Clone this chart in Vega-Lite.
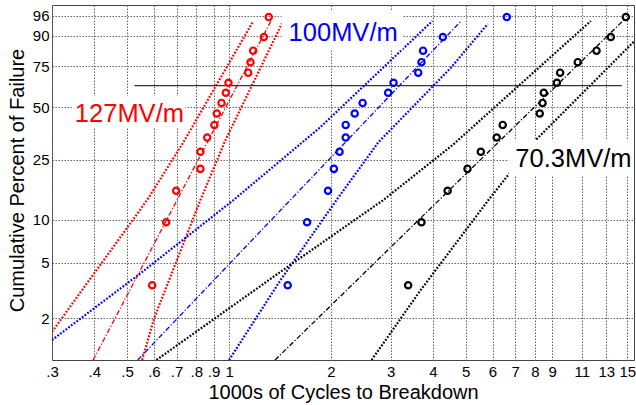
{
  "$schema": "https://vega.github.io/schema/vega-lite/v6.json",
  "width": 582,
  "height": 355,
  "autosize": {"type": "none"},
  "padding": {"left": 52, "top": 5, "right": 2, "bottom": 45},
  "background": "white",
  "config": {
    "font": "Liberation Sans",
    "view": {"stroke": "#444", "strokeWidth": 1},
    "axis": {
      "labelFont": "Liberation Sans",
      "titleFont": "Liberation Sans",
      "labelFontSize": 15,
      "titleFontSize": 20,
      "titleFontWeight": "normal",
      "labelColor": "#000",
      "titleColor": "#000",
      "domain": false,
      "ticks": false,
      "grid": true,
      "gridColor": "#666",
      "gridDash": [1.5, 1.5],
      "gridWidth": 1,
      "gridOpacity": 1,
      "labelOverlap": false,
      "labelFlush": false
    }
  },
  "datasets": {
    "points": [
      {"group": "127MV/m", "rank": 1, "x": 0.593, "h": 0.03507},
      {"group": "127MV/m", "rank": 2, "x": 0.652, "h": 0.10093},
      {"group": "127MV/m", "rank": 3, "x": 0.698, "h": 0.17143},
      {"group": "127MV/m", "rank": 4, "x": 0.823, "h": 0.24728},
      {"group": "127MV/m", "rank": 5, "x": 0.823, "h": 0.32936},
      {"group": "127MV/m", "rank": 6, "x": 0.862, "h": 0.41878},
      {"group": "127MV/m", "rank": 7, "x": 0.905, "h": 0.517},
      {"group": "127MV/m", "rank": 8, "x": 0.92, "h": 0.62592},
      {"group": "127MV/m", "rank": 9, "x": 0.95, "h": 0.74817},
      {"group": "127MV/m", "rank": 10, "x": 0.978, "h": 0.88748},
      {"group": "127MV/m", "rank": 11, "x": 0.996, "h": 1.04938},
      {"group": "127MV/m", "rank": 12, "x": 1.139, "h": 1.24266},
      {"group": "127MV/m", "rank": 13, "x": 1.157, "h": 1.48247},
      {"group": "127MV/m", "rank": 14, "x": 1.178, "h": 1.79855},
      {"group": "127MV/m", "rank": 15, "x": 1.267, "h": 2.26336},
      {"group": "127MV/m", "rank": 16, "x": 1.31, "h": 3.15916},
      {"group": "100MV/m", "rank": 1, "x": 1.49, "h": 0.03507},
      {"group": "100MV/m", "rank": 2, "x": 1.7, "h": 0.10093},
      {"group": "100MV/m", "rank": 3, "x": 1.96, "h": 0.17143},
      {"group": "100MV/m", "rank": 4, "x": 2.04, "h": 0.24728},
      {"group": "100MV/m", "rank": 5, "x": 2.12, "h": 0.32936},
      {"group": "100MV/m", "rank": 6, "x": 2.21, "h": 0.41878},
      {"group": "100MV/m", "rank": 7, "x": 2.21, "h": 0.517},
      {"group": "100MV/m", "rank": 8, "x": 2.35, "h": 0.62592},
      {"group": "100MV/m", "rank": 9, "x": 2.48, "h": 0.74817},
      {"group": "100MV/m", "rank": 10, "x": 2.95, "h": 0.88748},
      {"group": "100MV/m", "rank": 11, "x": 3.06, "h": 1.04938},
      {"group": "100MV/m", "rank": 12, "x": 3.62, "h": 1.24266},
      {"group": "100MV/m", "rank": 13, "x": 3.7, "h": 1.48247},
      {"group": "100MV/m", "rank": 14, "x": 3.74, "h": 1.79855},
      {"group": "100MV/m", "rank": 15, "x": 4.28, "h": 2.26336},
      {"group": "100MV/m", "rank": 16, "x": 6.61, "h": 3.15916},
      {"group": "70.3MV/m", "rank": 1, "x": 3.38, "h": 0.03507},
      {"group": "70.3MV/m", "rank": 2, "x": 3.7, "h": 0.10093},
      {"group": "70.3MV/m", "rank": 3, "x": 4.42, "h": 0.17143},
      {"group": "70.3MV/m", "rank": 4, "x": 5.06, "h": 0.24728},
      {"group": "70.3MV/m", "rank": 5, "x": 5.54, "h": 0.32936},
      {"group": "70.3MV/m", "rank": 6, "x": 6.17, "h": 0.41878},
      {"group": "70.3MV/m", "rank": 7, "x": 6.43, "h": 0.517},
      {"group": "70.3MV/m", "rank": 8, "x": 8.27, "h": 0.62592},
      {"group": "70.3MV/m", "rank": 9, "x": 8.43, "h": 0.74817},
      {"group": "70.3MV/m", "rank": 10, "x": 8.5, "h": 0.88748},
      {"group": "70.3MV/m", "rank": 11, "x": 9.29, "h": 1.04938},
      {"group": "70.3MV/m", "rank": 12, "x": 9.5, "h": 1.24266},
      {"group": "70.3MV/m", "rank": 13, "x": 10.71, "h": 1.48247},
      {"group": "70.3MV/m", "rank": 14, "x": 12.17, "h": 1.79855},
      {"group": "70.3MV/m", "rank": 15, "x": 13.41, "h": 2.26336},
      {"group": "70.3MV/m", "rank": 16, "x": 14.85, "h": 3.15916}
    ],
    "fits": [
      {"group": "127MV/m", "line": "r_fit", "x": 0.3968, "h": 0.01},
      {"group": "127MV/m", "line": "r_fit", "x": 1.3302, "h": 2.9597},
      {"group": "100MV/m", "line": "b_fit", "x": 0.5373, "h": 0.01},
      {"group": "100MV/m", "line": "b_fit", "x": 4.8143, "h": 2.9104},
      {"group": "70.3MV/m", "line": "k_fit", "x": 1.3669, "h": 0.01},
      {"group": "70.3MV/m", "line": "k_fit", "x": 14.6501, "h": 3.0098}
    ],
    "bounds": [
      {"group": "127MV/m", "line": "r_up", "x": 0.3, "h": 0.01606},
      {"group": "127MV/m", "line": "r_up", "x": 0.5728, "h": 0.14655},
      {"group": "127MV/m", "line": "r_up", "x": 0.7347, "h": 0.3901},
      {"group": "127MV/m", "line": "r_up", "x": 1.1771, "h": 2.935},
      {"group": "127MV/m", "line": "r_lo", "x": 0.5536, "h": 0.01},
      {"group": "127MV/m", "line": "r_lo", "x": 0.6011, "h": 0.02022},
      {"group": "127MV/m", "line": "r_lo", "x": 0.8232, "h": 0.14655},
      {"group": "127MV/m", "line": "r_lo", "x": 0.9759, "h": 0.4014},
      {"group": "127MV/m", "line": "r_lo", "x": 1.4356, "h": 2.862},
      {"group": "100MV/m", "line": "b_up", "x": 0.3, "h": 0.01397},
      {"group": "100MV/m", "line": "b_up", "x": 0.5473, "h": 0.04281},
      {"group": "100MV/m", "line": "b_up", "x": 1.0305, "h": 0.14655},
      {"group": "100MV/m", "line": "b_up", "x": 1.8629, "h": 0.49922},
      {"group": "100MV/m", "line": "b_up", "x": 3.9852, "h": 2.9597},
      {"group": "100MV/m", "line": "b_lo", "x": 1.0001, "h": 0.01},
      {"group": "100MV/m", "line": "b_lo", "x": 1.4191, "h": 0.03825},
      {"group": "100MV/m", "line": "b_lo", "x": 2.077, "h": 0.14655},
      {"group": "100MV/m", "line": "b_lo", "x": 2.7647, "h": 0.38813},
      {"group": "100MV/m", "line": "b_lo", "x": 4.5128, "h": 1.3444},
      {"group": "100MV/m", "line": "b_lo", "x": 5.8064, "h": 2.8143},
      {"group": "70.3MV/m", "line": "k_up", "x": 0.6102, "h": 0.01},
      {"group": "70.3MV/m", "line": "k_up", "x": 1.4191, "h": 0.04397},
      {"group": "70.3MV/m", "line": "k_up", "x": 2.8546, "h": 0.14655},
      {"group": "70.3MV/m", "line": "k_up", "x": 4.5746, "h": 0.36905},
      {"group": "70.3MV/m", "line": "k_up", "x": 11.7047, "h": 2.9597},
      {"group": "70.3MV/m", "line": "k_lo", "x": 2.6361, "h": 0.01},
      {"group": "70.3MV/m", "line": "k_lo", "x": 3.6801, "h": 0.03234},
      {"group": "70.3MV/m", "line": "k_lo", "x": 5.8341, "h": 0.14655},
      {"group": "70.3MV/m", "line": "k_lo", "x": 8.0507, "h": 0.4014},
      {"group": "70.3MV/m", "line": "k_lo", "x": 15.7, "h": 2.0978}
    ],
    "charlife": [
      {"x": 0.5254, "x2": 14.452, "h": 1}
    ],
    "boxes": [
      {"group": "127MV/m", "x": 0.3445, "x2": 0.7433, "h": 0.4909, "h2": 0.8402},
      {"group": "100MV/m", "x": 1.4287, "x2": 3.255, "h": 1.8188, "h2": 3.5601},
      {"group": "70.3MV/m", "x": 6.698, "x2": 15.7, "h": 0.21931, "h2": 0.4014}
    ],
    "labels": [
      {"group": "127MV/m", "x": 0.5078, "h": 0.5476},
      {"group": "100MV/m", "x": 2.1724, "h": 2.0978},
      {"group": "70.3MV/m", "x": 10.402, "h": 0.25631}
    ]
  },
  "encoding": {
    "x": {"field": "x", "type": "quantitative", "scale": {"type": "log", "domain": [0.3, 15.7], "nice": false},
      "axis": {"orient": "bottom", "grid": true, "values": [0.3, 0.4, 0.5, 0.6, 0.7, 0.8, 0.9, 1, 2, 3, 4, 5, 6, 7, 8, 9, 11, 13, 15],
        "labelExpr": "datum.value < 1 ? '.' + round(datum.value * 10) : format(datum.value, 'd')",
        "labelPadding": 16, "labelBaseline": "alphabetic",
        "title": "1000s of Cycles to Breakdown", "titleY": 38, "titleBaseline": "alphabetic"}},
    "y": {"field": "h", "type": "quantitative", "scale": {"type": "log", "domain": [0.01, 3.87], "nice": false},
      "axis": {"orient": "left", "grid": true, "values": [0.020203, 0.051293, 0.105361, 0.287682, 0.693147, 1.386294, 2.302585, 3.218876],
        "labelExpr": "format(100 * (1 - exp(-datum.value)), '.0f')",
        "labelPadding": 3,
        "title": "Cumulative Percent of Failure", "titleX": -29, "titleY": 175, "titleBaseline": "alphabetic"}}
  },
  "layer": [
    {
      "data": {"name": "bounds"},
      "mark": {"type": "line", "strokeDash": [1.8, 1.6], "strokeWidth": 2.2, "clip": true},
      "encoding": {
        "color": {"field": "group", "type": "nominal", "scale": {"domain": ["127MV/m", "100MV/m", "70.3MV/m"], "range": ["#ff0000", "#0000ff", "#000000"]}, "legend": null},
        "detail": {"field": "line"}
      }
    },
    {
      "data": {"name": "fits"},
      "mark": {"type": "line", "strokeDash": [5, 2, 1.2, 2], "strokeWidth": 1.3, "clip": true},
      "encoding": {
        "color": {"field": "group", "type": "nominal", "scale": {"domain": ["127MV/m", "100MV/m", "70.3MV/m"], "range": ["#ff0000", "#0000ff", "#000000"]}, "legend": null},
        "detail": {"field": "line"}
      }
    },
    {
      "data": {"name": "charlife"},
      "mark": {"type": "rule", "color": "#333", "strokeWidth": 1.2},
      "encoding": {
        "x2": {"field": "x2"}
      }
    },
    {
      "data": {"name": "points"},
      "mark": {"type": "point", "shape": "circle", "filled": false, "strokeWidth": 2.2, "size": 40, "opacity": 1},
      "encoding": {
        "color": {"field": "group", "type": "nominal", "scale": {"domain": ["127MV/m", "100MV/m", "70.3MV/m"], "range": ["#ff0000", "#0000ff", "#000000"]}, "legend": null}
      }
    },
    {
      "data": {"name": "boxes"},
      "mark": {"type": "rect", "fill": "white", "clip": true},
      "encoding": {
        "x2": {"field": "x2"},
        "y2": {"field": "h2"}
      }
    },
    {
      "data": {"name": "labels"},
      "mark": {"type": "text", "fontSize": 25.5, "align": "center", "baseline": "alphabetic", "font": "Liberation Sans"},
      "encoding": {
        "text": {"field": "group"},
        "color": {"field": "group", "type": "nominal", "scale": {"domain": ["127MV/m", "100MV/m", "70.3MV/m"], "range": ["#ff0000", "#0000ff", "#000000"]}, "legend": null}
      }
    }
  ]
}
